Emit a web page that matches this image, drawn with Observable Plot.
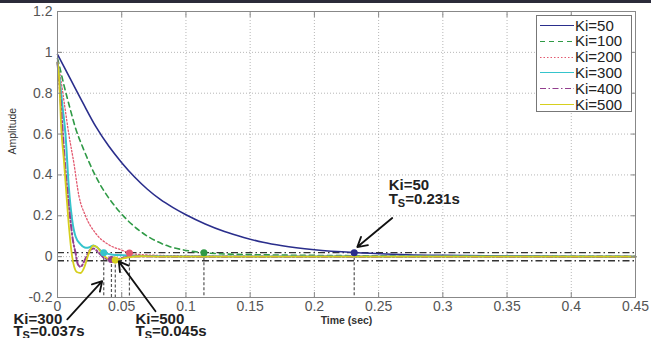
<!DOCTYPE html>
<html>
<head>
<meta charset="utf-8">
<script src="https://cdn.jsdelivr.net/npm/d3@7"></script>
<script src="https://cdn.jsdelivr.net/npm/@observablehq/plot@0.6"></script>
<style>
  html, body { margin: 0; padding: 0; background: #fff; }
  #wrap { position: relative; width: 651px; height: 338px; overflow: hidden; font-family: Arial, "Liberation Sans", sans-serif; }
  #topbar { position: absolute; left: 0; top: 0; width: 651px; height: 3px; background: #2b2b3a; }
  #legend { position: absolute; left: 536px; top: 15px; width: 96px; height: 97px; border: 1px solid #777; background: #fff; box-sizing: border-box; }
  .lrow { position: absolute; left: 0; height: 16px; display: flex; align-items: center; font-size: 15px; color: #222; }
  .lrow svg { display: block; }
</style>
</head>
<body>
<div id="wrap"><div id="topbar"></div></div>
<script>
// ---- data ----
const seriesNames = ["Ki=50", "Ki=100", "Ki=200", "Ki=300", "Ki=400", "Ki=500"];
const seriesColors = ["#2a2e8c", "#2f9a46", "#e35a70", "#35c4cc", "#923e8e", "#d6cf1e"];
const seriesDash = ["none", "5,4", "1.5,2", "none", "6,2.5,1.5,2.5", "none"];
const seriesWidth = [1.6, 1.6, 1.3, 2, 2, 1.8];

const ki50T = [0, 0.01, 0.02, 0.03, 0.04, 0.05, 0.06, 0.07, 0.08, 0.09, 0.1, 0.115, 0.13, 0.145, 0.16, 0.175, 0.2, 0.231, 0.26, 0.3, 0.35, 0.4, 0.45];
const ki50V = [0.99, 0.87, 0.75, 0.635, 0.54, 0.46, 0.39, 0.33, 0.28, 0.24, 0.205, 0.16, 0.123, 0.094, 0.07, 0.053, 0.034, 0.02, 0.012, 0.006, 0.003, 0.001, 0];

const ki100T = [0, 0.002, 0.005, 0.01, 0.014, 0.02, 0.0244, 0.03, 0.0374, 0.045, 0.049, 0.055, 0.0633, 0.07, 0.0763, 0.087, 0.098, 0.113, 0.13, 0.16, 0.2, 0.3, 0.45];
const ki100V = [0.97, 0.92, 0.84, 0.72, 0.63, 0.53, 0.465, 0.39, 0.31, 0.245, 0.215, 0.175, 0.13, 0.1, 0.078, 0.05, 0.033, 0.02, 0.013, 0.009, 0.006, 0.003, 0.001];

const ki200T = [0, 0.003, 0.006, 0.0088, 0.0127, 0.0166, 0.0218, 0.0296, 0.04, 0.0504, 0.0556, 0.065, 0.08, 0.1, 0.15, 0.45];
const ki200V = [0.96, 0.85, 0.72, 0.6, 0.46, 0.3, 0.2, 0.115, 0.058, 0.031, 0.018, 0.01, 0.006, 0.004, 0.002, 0];

const ki300T = [0, 0.002, 0.004, 0.0062, 0.0088, 0.0114, 0.014, 0.018, 0.022, 0.025, 0.028, 0.031, 0.035, 0.037, 0.042, 0.0465, 0.055, 0.07, 0.1, 0.45];
const ki300V = [0.95, 0.85, 0.73, 0.6, 0.34, 0.18, 0.1, 0.06, 0.043, 0.046, 0.055, 0.045, 0.022, 0.017, 0.01, 0.008, 0.005, 0.003, 0.001, 0];

const ki400T = [0, 0.002, 0.004, 0.006, 0.008, 0.01, 0.012, 0.014, 0.016, 0.018, 0.021, 0.025, 0.028, 0.032, 0.036, 0.042, 0.047, 0.052, 0.06, 0.08, 0.45];
const ki400V = [0.95, 0.8, 0.62, 0.44, 0.3, 0.18, 0.08, 0.02, -0.04, -0.05, -0.02, 0.03, 0.04, 0.02, -0.005, -0.015, -0.012, -0.004, 0.001, 0, 0];

const ki500T = [0, 0.001, 0.003, 0.005, 0.007, 0.009, 0.0114, 0.013, 0.015, 0.018, 0.021, 0.024, 0.026, 0.028, 0.031, 0.034, 0.037, 0.041, 0.045, 0.049, 0.055, 0.065, 0.08, 0.45];
const ki500V = [0.95, 0.9, 0.62, 0.47, 0.3, 0.14, 0.0, -0.05, -0.075, -0.08, -0.05, 0.01, 0.04, 0.054, 0.045, 0.02, 0.0, -0.015, -0.018, -0.012, -0.003, 0.002, 0, 0];

const seriesT = [ki50T, ki100T, ki200T, ki300T, ki400T, ki500T];
const seriesV = [ki50V, ki100V, ki200V, ki300V, ki400V, ki500V];

// settling-time markers
const settleT = [0.231, 0.114, 0.056, 0.036, 0.042, 0.045];
const settleV = [0.019, 0.019, 0.018, 0.019, -0.014, -0.017];
const bandLevels = [0.02, -0.02];

const xTicks = [0, 0.05, 0.1, 0.15, 0.2, 0.25, 0.3, 0.35, 0.4, 0.45];
const yTicks = [-0.2, 0, 0.2, 0.4, 0.6, 0.8, 1, 1.2];

// annotations
const annoLine1 = ["Ki=50", "Ki=300", "Ki=500"];
const annoLine2 = ["Ts=0.231s", "Ts=0.037s", "Ts=0.045s"];
const annoX = [0.2578, -0.0343, 0.0607];
const annoY1 = [0.351, -0.305, -0.305];
const annoY2 = [0.283, -0.366, -0.366];
const arrowFrom = [[0.2606, 0.189], [0.0076, -0.307], [0.0763, -0.267]];
const arrowTo = [[0.2334, 0.047], [0.0348, -0.12], [0.0477, -0.023]];

// ---- build tables ----
const curves = [];
seriesNames.forEach((name, i) => {
  seriesT[i].forEach((t, j) => curves.push({series: name, t, v: seriesV[i][j]}));
});
const settle = seriesNames.map((name, i) => ({series: name, t: settleT[i], v: settleV[i], color: seriesColors[i]}));
const annos = annoLine1.map((l, i) => ({l1: l, l2: annoLine2[i], x: annoX[i], y1: annoY1[i], y2: annoY2[i]}));
const arrows = arrowFrom.map((f, i) => ({x1: f[0], y1: f[1], x2: arrowTo[i][0], y2: arrowTo[i][1]}));

const fmt = d => String(+d.toFixed(2));
const blank = () => "";

const lineMarks = seriesNames.map((name, i) =>
  Plot.line(curves.filter(d => d.series === name), {
    x: "t", y: "v", stroke: seriesColors[i], strokeWidth: seriesWidth[i],
    strokeDasharray: seriesDash[i] === "none" ? null : seriesDash[i], curve: "monotone-x"
  })
);

const plot = Plot.plot({
  width: 651, height: 338,
  marginLeft: 57, marginRight: 16, marginTop: 11, marginBottom: 41,
  style: {fontFamily: "Arial, 'Liberation Sans', sans-serif", background: "transparent", overflow: "visible"},
  x: {domain: [0, 0.45]},
  y: {domain: [-0.2, 1.2]},
  marks: [
    Plot.gridX(xTicks, {stroke: "#999", strokeOpacity: 0.7, strokeDasharray: "1,2"}),
    Plot.gridY(yTicks, {stroke: "#999", strokeOpacity: 0.7, strokeDasharray: "1,2"}),
    Plot.ruleY(bandLevels, {stroke: "#333", strokeWidth: 1.3, strokeDasharray: "7,3,1.5,3"}),
    Plot.ruleX(settle, {x: "t", y1: "v", y2: -0.2, stroke: "#555", strokeWidth: 1.2, strokeDasharray: "3,2"}),
    ...lineMarks,
    Plot.dot(settle, {x: "t", y: "v", r: 2.8, fill: "color", stroke: "color"}),
    Plot.frame({stroke: "#888"}),
    Plot.axisX(xTicks, {tickSize: -5, tickPadding: 9, fontSize: 14, fill: "#555", stroke: "#888", tickFormat: fmt, label: null}),
    Plot.axisX(xTicks, {anchor: "top", tickSize: -5, tickFormat: blank, stroke: "#888", label: null}),
    Plot.axisY(yTicks, {tickSize: -5, tickPadding: 10, fontSize: 14, fill: "#555", stroke: "#888", tickFormat: fmt, label: null}),
    Plot.axisY(yTicks, {anchor: "right", tickSize: -5, tickFormat: blank, stroke: "#888", label: null}),
    Plot.text(["Time (sec)"], {frameAnchor: "bottom", dy: 26, fontSize: 10.5, fontWeight: "bold", fill: "#333"}),
    Plot.text(["Amplitude"], {frameAnchor: "left", dx: -45, rotate: -90, fontSize: 10.5, fill: "#333"}),
    Plot.arrow(arrows, {x1: "x1", y1: "y1", x2: "x2", y2: "y2", stroke: "#111", strokeWidth: 1.8, headLength: 9}),
    Plot.text(annos, {x: "x", y: "y1", text: "l1", textAnchor: "start", fontSize: 15, fontWeight: "bold", fill: "#222"}),
    Plot.text(annos, {x: "x", y: "y2", text: "l2", textAnchor: "start", fontSize: 15, fontWeight: "bold", fill: "#222"})
  ]
});

// subscript S in "Ts"
const NS = "http://www.w3.org/2000/svg";
plot.querySelectorAll("text").forEach(el => {
  if (el.children.length === 0 && el.textContent.startsWith("Ts=")) {
    const rest = el.textContent.slice(2);
    el.textContent = "T";
    const sub = document.createElementNS(NS, "tspan");
    sub.setAttribute("font-size", "11");
    sub.setAttribute("dy", "3");
    sub.textContent = "S";
    const tail = document.createElementNS(NS, "tspan");
    tail.setAttribute("dy", "-3");
    tail.textContent = rest;
    el.appendChild(sub);
    el.appendChild(tail);
  }
});

const wrap = document.getElementById("wrap");
plot.style.position = "absolute";
plot.style.left = "0px";
plot.style.top = "0px";
wrap.insertBefore(plot, wrap.firstChild);

// legend
const legend = document.createElement("div");
legend.id = "legend";
seriesNames.forEach((name, i) => {
  const row = document.createElement("div");
  row.className = "lrow";
  row.style.top = (1 + i * 15.8) + "px";
  const dash = seriesDash[i] === "none" ? "" : `stroke-dasharray="${seriesDash[i]}"`;
  row.innerHTML = `<svg width="38" height="16"><line x1="3" x2="37" y1="8.5" y2="8.5" stroke="${seriesColors[i]}" stroke-width="1.2" ${dash}/></svg><span>${name}</span>`;
  legend.appendChild(row);
});
wrap.appendChild(legend);
</script>
</body>
</html>
